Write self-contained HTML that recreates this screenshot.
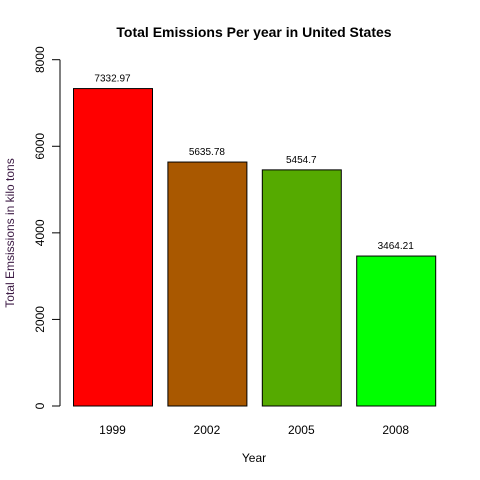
<!DOCTYPE html>
<html><head><meta charset="utf-8"><style>
html,body{margin:0;padding:0;background:#fff;}
svg{display:block;font-family:"Liberation Sans",Arial,sans-serif;}
</style></head><body>
<svg id="chart" width="480" height="480" viewBox="0 0 480 480">
<rect width="480" height="480" fill="#fff"/>
<text x="254" y="37" text-anchor="middle" font-size="14" font-weight="bold" fill="#000">Total Emissions Per year in United States</text>
<text x="254" y="462" text-anchor="middle" font-size="12" fill="#000">Year</text>
<text transform="translate(14,233) rotate(-90)" text-anchor="middle" font-size="12" fill="#3c1a44">Total Emsissions in kilo tons</text>
<g id="yaxis"></g>
<g id="bars"></g>
</svg>
<script>
const categories = ["1999","2002","2005","2008"];
const values = [7332.97, 5635.78, 5454.7, 3464.21];
const valueLabels = ["7332.97","5635.78","5454.7","3464.21"];
const colors = ["#ff0000","#a95800","#55aa00","#00ff00"];
const yTicks = [0,2000,4000,6000,8000];

const NS = "http://www.w3.org/2000/svg";
const y0 = 406, yTop = 59.7, yMax = 8000;
function yScale(v){ return y0 - (v / yMax) * (y0 - yTop); }
const barW = 79, step = 94.4, x0 = 73;
function xScale(i){ return x0 + i * step; }

function mk(tag, attrs){ const e = document.createElementNS(NS, tag); for (const k in attrs) e.setAttribute(k, attrs[k]); return e; }

const ya = document.getElementById('yaxis');
const axisLine = mk('line', {x1:60, x2:60, y1:yScale(yTicks[0]), y2:yScale(yTicks[yTicks.length-1]), stroke:'#000'});


ya.appendChild(axisLine);
yTicks.forEach(t => {
  const y = yScale(t);
  const tk = mk('line', {x1:52, x2:60, y1:y, y2:y, stroke:'#000'});
  
  
  ya.appendChild(tk);
  const lb = mk('text', {transform:`translate(44,${y}) rotate(-90)`, 'text-anchor':'middle', 'font-size':12, fill:'#000'});
  lb.textContent = t;
  
  
  ya.appendChild(lb);
});

const bg = document.getElementById('bars');
values.forEach((v, i) => {
  const x = xScale(i), y = yScale(v);
  const r = mk('rect', {x:x+0.5, y:y, width:barW, height:y0 - y, fill:colors[i], stroke:'#000', 'stroke-width':1});
  
  
  bg.appendChild(r);
  const vl = mk('text', {x:x + barW/2, y:y - 7, 'text-anchor':'middle', 'font-size':10, fill:'#000'});
  vl.textContent = valueLabels[i];
  
  
  bg.appendChild(vl);
  const cl = mk('text', {x:x + barW/2, y:434, 'text-anchor':'middle', 'font-size':12, fill:'#000'});
  cl.textContent = categories[i];
  
  
  bg.appendChild(cl);
});
</script>
</body></html>
